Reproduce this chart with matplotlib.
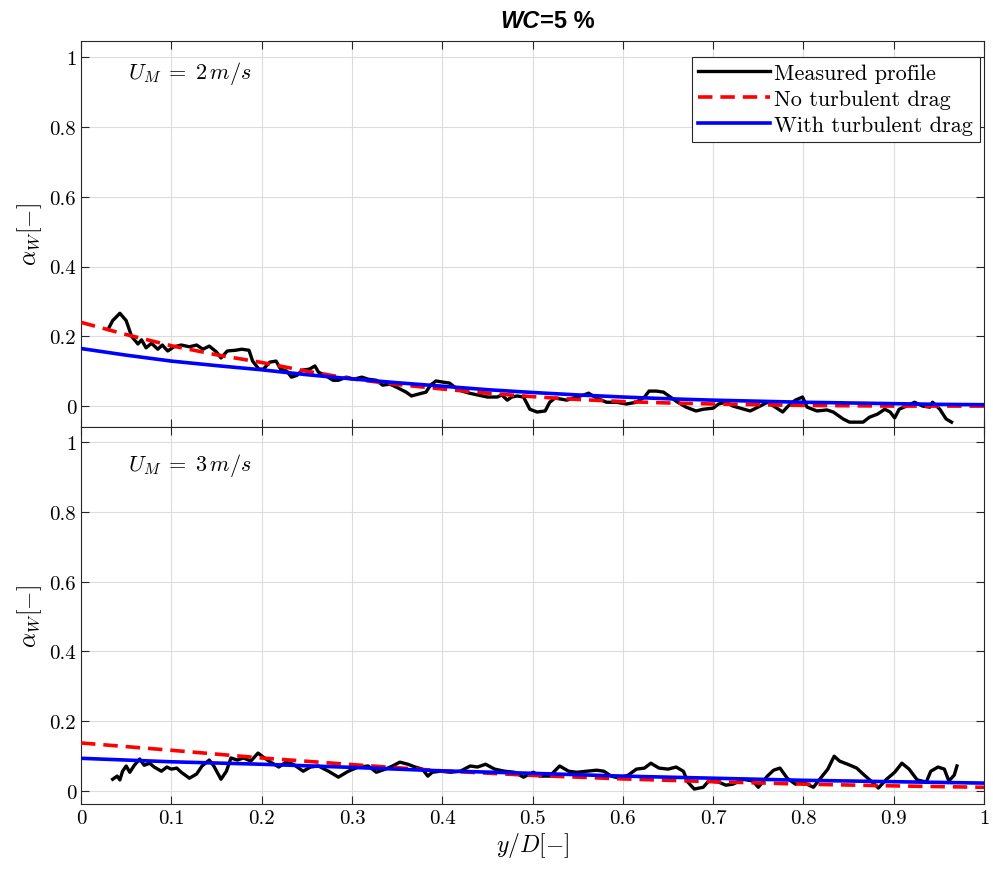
import numpy as np
import matplotlib
matplotlib.use("Agg")
import matplotlib.pyplot as plt

plt.rcParams['font.family'] = 'serif'
plt.rcParams['font.serif'] = ['cmr10']
plt.rcParams['mathtext.fontset'] = 'cm'
plt.rcParams['axes.formatter.use_mathtext'] = True

# ---- data ----
# top panel, U_M = 2 m/s : measured profile
y1_meas = [0.030, 0.035, 0.043, 0.050, 0.056, 0.063, 0.067, 0.072, 0.078, 0.085, 0.090, 0.096,
           0.103, 0.111, 0.120, 0.128, 0.135, 0.142, 0.150, 0.155, 0.162, 0.171, 0.178, 0.186,
           0.190, 0.197, 0.202, 0.209, 0.216, 0.221, 0.228, 0.233, 0.239, 0.245, 0.253, 0.259,
           0.263, 0.270, 0.279, 0.285, 0.294, 0.302, 0.311, 0.318, 0.327, 0.334, 0.342, 0.351,
           0.360, 0.366, 0.373, 0.382, 0.387, 0.393, 0.400, 0.408, 0.415, 0.422, 0.430, 0.439,
           0.450, 0.461, 0.466, 0.472, 0.477, 0.483, 0.490, 0.497, 0.505, 0.514, 0.519, 0.525,
           0.538, 0.549, 0.557, 0.562, 0.571, 0.582, 0.593, 0.604, 0.615, 0.624, 0.629, 0.637,
           0.645, 0.651, 0.659, 0.670, 0.681, 0.689, 0.700, 0.706, 0.714, 0.722, 0.730, 0.741,
           0.752, 0.760, 0.767, 0.777, 0.783, 0.791, 0.799, 0.804, 0.815, 0.826, 0.833, 0.844,
           0.851, 0.859, 0.866, 0.873, 0.882, 0.890, 0.896, 0.901, 0.906, 0.914, 0.923, 0.932,
           0.940, 0.943, 0.951, 0.958, 0.964]
a1_meas = [0.220, 0.245, 0.266, 0.245, 0.200, 0.178, 0.190, 0.167, 0.180, 0.163, 0.175, 0.158,
           0.170, 0.175, 0.170, 0.175, 0.163, 0.172, 0.155, 0.138, 0.158, 0.160, 0.163, 0.160,
           0.129, 0.106, 0.106, 0.126, 0.129, 0.106, 0.100, 0.083, 0.088, 0.103, 0.106, 0.115,
           0.097, 0.089, 0.074, 0.074, 0.083, 0.077, 0.083, 0.077, 0.074, 0.060, 0.063, 0.052,
           0.040, 0.029, 0.034, 0.040, 0.060, 0.072, 0.069, 0.066, 0.052, 0.043, 0.037, 0.032,
           0.026, 0.026, 0.032, 0.017, 0.026, 0.029, 0.026, -0.009, -0.017, -0.014, 0.011, 0.023,
           0.017, 0.026, 0.032, 0.037, 0.023, 0.011, 0.011, 0.006, 0.011, 0.026, 0.043, 0.043,
           0.040, 0.029, 0.014, -0.003, -0.014, -0.009, -0.006, 0.006, 0.011, 0.000, -0.006, -0.014,
           0.000, 0.011, 0.000, -0.017, 0.000, 0.017, 0.026, -0.003, -0.014, -0.011, -0.017, -0.037,
           -0.046, -0.046, -0.046, -0.032, -0.023, -0.009, -0.017, -0.034, -0.009, 0.000, 0.011, 0.000,
           -0.003, 0.011, -0.009, -0.037, -0.046]

# model curves, top panel
y1_model = [0.00, 0.05, 0.10, 0.15, 0.20, 0.25, 0.30, 0.35, 0.40, 0.45, 0.50,
            0.55, 0.60, 0.65, 0.70, 0.75, 0.80, 0.85, 0.90, 0.95, 1.00]
a1_nodrag = [0.240, 0.205, 0.173, 0.147, 0.125, 0.100, 0.078, 0.062, 0.049, 0.037, 0.027,
             0.019, 0.013, 0.009, 0.006, 0.004, 0.002, 0.001, 0.000, 0.000, 0.000]
a1_drag = [0.165, 0.146, 0.129, 0.116, 0.104, 0.090, 0.078, 0.067, 0.057, 0.047, 0.039,
           0.032, 0.026, 0.021, 0.017, 0.014, 0.011, 0.009, 0.007, 0.005, 0.004]

# bottom panel, U_M = 3 m/s : measured profile
y2_meas = [0.035, 0.040, 0.043, 0.046, 0.050, 0.054, 0.059, 0.065, 0.070, 0.076, 0.081, 0.089,
           0.095, 0.100, 0.106, 0.111, 0.120, 0.128, 0.134, 0.142, 0.147, 0.155, 0.161, 0.166,
           0.173, 0.180, 0.188, 0.196, 0.202, 0.210, 0.219, 0.227, 0.235, 0.246, 0.254, 0.263,
           0.274, 0.285, 0.296, 0.307, 0.318, 0.327, 0.337, 0.345, 0.353, 0.362, 0.370, 0.378,
           0.384, 0.389, 0.398, 0.409, 0.420, 0.431, 0.439, 0.448, 0.458, 0.469, 0.480, 0.490,
           0.501, 0.508, 0.519, 0.530, 0.540, 0.549, 0.560, 0.571, 0.579, 0.587, 0.596, 0.606,
           0.615, 0.624, 0.631, 0.640, 0.650, 0.659, 0.667, 0.672, 0.679, 0.689, 0.695, 0.706,
           0.714, 0.722, 0.733, 0.744, 0.750, 0.760, 0.767, 0.774, 0.782, 0.791, 0.799, 0.811,
           0.818, 0.827, 0.834, 0.840, 0.849, 0.859, 0.866, 0.876, 0.883, 0.892, 0.901, 0.909,
           0.917, 0.926, 0.936, 0.941, 0.949, 0.956, 0.961, 0.967, 0.970]
a2_meas = [0.034, 0.043, 0.032, 0.057, 0.072, 0.054, 0.074, 0.092, 0.074, 0.080, 0.069, 0.057,
           0.069, 0.063, 0.066, 0.054, 0.037, 0.049, 0.072, 0.089, 0.072, 0.034, 0.057, 0.095,
           0.089, 0.095, 0.086, 0.109, 0.097, 0.083, 0.069, 0.083, 0.077, 0.057, 0.069, 0.072,
           0.057, 0.040, 0.057, 0.069, 0.072, 0.054, 0.063, 0.072, 0.083, 0.077, 0.069, 0.063,
           0.043, 0.054, 0.057, 0.054, 0.057, 0.072, 0.069, 0.077, 0.063, 0.057, 0.054, 0.040,
           0.054, 0.043, 0.043, 0.072, 0.057, 0.054, 0.057, 0.060, 0.057, 0.043, 0.037, 0.046,
           0.063, 0.066, 0.080, 0.066, 0.063, 0.069, 0.057, 0.026, 0.006, 0.011, 0.029, 0.026,
           0.017, 0.020, 0.034, 0.029, 0.011, 0.043, 0.060, 0.066, 0.037, 0.020, 0.026, 0.011,
           0.034, 0.063, 0.100, 0.086, 0.077, 0.066, 0.049, 0.026, 0.009, 0.034, 0.054, 0.080,
           0.063, 0.032, 0.026, 0.057, 0.069, 0.063, 0.029, 0.046, 0.072]

# model curves, bottom panel
y2_model = [0.0, 0.1, 0.2, 0.3, 0.4, 0.5, 0.6, 0.7, 0.8, 0.9, 1.0]
a2_nodrag = [0.138, 0.117, 0.095, 0.076, 0.058, 0.045, 0.035, 0.027, 0.020, 0.015, 0.011]
a2_drag = [0.094, 0.084, 0.077, 0.068, 0.058, 0.051, 0.043, 0.037, 0.031, 0.027, 0.023]

labels = ['Measured profile', 'No turbulent drag', 'With turbulent drag']
speeds = [r'$U_M\;=\;2\,m/s$', r'$U_M\;=\;3\,m/s$']

fig = plt.figure(figsize=(9.93, 8.78), dpi=100)
ax1 = fig.add_axes([0.0816, 0.5125, 0.9094, 0.4395])
ax2 = fig.add_axes([0.0816, 0.0831, 0.9094, 0.4294])

panels = [(ax1, y1_meas, a1_meas, y1_model, a1_nodrag, a1_drag, (-0.06, 1.046)),
          (ax2, y2_meas, a2_meas, y2_model, a2_nodrag, a2_drag, (-0.037, 1.043))]

for i, (ax, ym, am, yc, an, ad, yl) in enumerate(panels):
    ax.plot(ym, am, color='black', lw=2.4, label=labels[0], zorder=3)
    ax.plot(yc, an, color='red', lw=2.6, ls=(0, (4, 2.2)), label=labels[1], zorder=4)
    ax.plot(yc, ad, color='blue', lw=2.6, label=labels[2], zorder=5)
    ax.set_xlim(0, 1)
    ax.set_ylim(*yl)
    ax.set_xticks(np.arange(0, 1.01, 0.1))
    ax.set_yticks([0, 0.2, 0.4, 0.6, 0.8, 1])
    ax.set_yticklabels(['0', '0.2', '0.4', '0.6', '0.8', '1'])
    ax.grid(True, color='#dcdcdc', lw=0.8)
    ax.set_axisbelow(True)
    ax.tick_params(direction='in', top=True, right=True, length=6, width=0.8,
                   labelsize=15, colors='#262626', labelcolor='black')
    for s in ax.spines.values():
        s.set_linewidth(0.8)
        s.set_color('#262626')
    ax.set_ylabel(r'$\alpha_W[-]$', fontsize=17, labelpad=4)
    ax.text(0.052, 0.955 if i == 0 else 0.935, speeds[i], fontsize=16,
            transform=ax.get_yaxis_transform(), va='center', ha='left')

ax1.tick_params(labelbottom=False)
ax2.set_xticklabels(['0', '0.1', '0.2', '0.3', '0.4', '0.5', '0.6', '0.7', '0.8', '0.9', '1'])
ax2.set_xlabel(r'$y/D[-]$', fontsize=17, labelpad=2)

leg = ax1.legend(loc='upper right', bbox_to_anchor=(0.995, 0.96), fontsize=16,
                 handlelength=3.2, handletextpad=0.2, borderpad=0.3, labelspacing=0.3,
                 fancybox=False, framealpha=1, edgecolor='#262626', borderaxespad=0.0)
leg.get_frame().set_linewidth(0.8)

# title: italic "WC" followed by "=5 %"
t1 = fig.text(0.5435, 0.975, 'WC', fontsize=17, fontweight='bold', fontstyle='italic',
              family='Liberation Sans', ha='right', va='center')
t2 = fig.text(0.5435, 0.975, '=5 %', fontsize=17, fontweight='bold',
              family='Liberation Sans', ha='left', va='center')

fig.savefig('out.png', dpi=100)
